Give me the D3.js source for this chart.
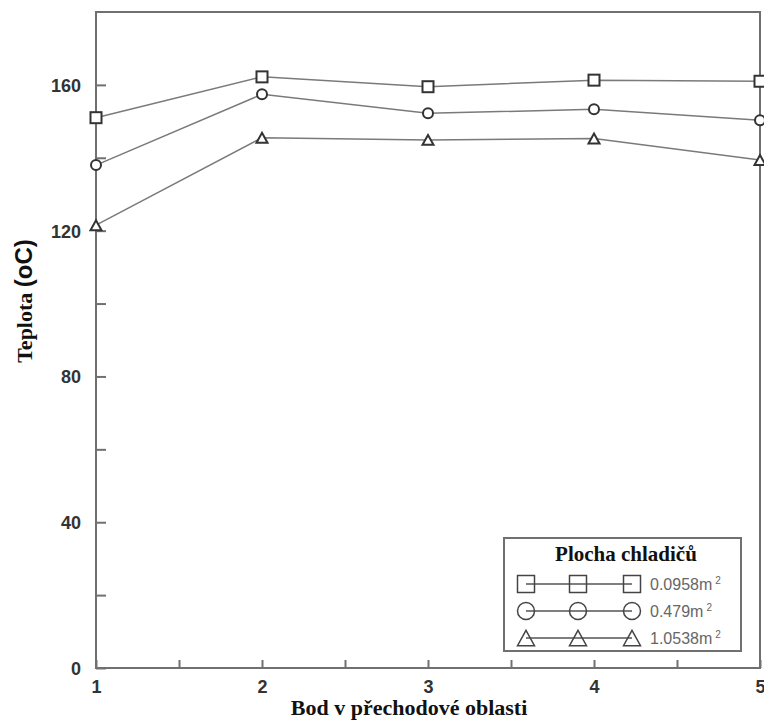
<!DOCTYPE html>
<html>
<head>
<meta charset="utf-8">
<script src="https://cdn.jsdelivr.net/npm/d3@7"></script>
<style>
  body { margin: 0; background: #fff; }
  svg { display: block; }
</style>
</head>
<body>
<svg id="chart" width="764" height="724"></svg>
<script>
// data
const points = [1, 2, 3, 4, 5];
const series_labels = ['0.0958m', '0.479m', '1.0538m'];
const series_symbols = ['square', 'circle', 'triangle'];
const values_0958 = [151, 162.2, 159.5, 161.3, 161.0];
const values_479 = [138, 157.4, 152.2, 153.3, 150.3];
const values_10538 = [121.5, 145.5, 144.9, 145.3, 139.4];
const y_ticks = [0, 40, 80, 120, 160];
const y_minor = [20, 60, 100, 140];
const x_minor = [1.5, 2.5, 3.5, 4.5];

const series = [values_0958, values_479, values_10538].map((v, i) => ({
  label: series_labels[i],
  symbol: series_symbols[i],
  values: v
}));

const svg = d3.select('#chart');
const plot_left = 96, plot_right = 760, plot_top = 12, plot_bottom = 668;
const axis_color = '#707070';
const sans = '"Liberation Sans", Arial, sans-serif';
const serif = '"Liberation Serif", "Times New Roman", serif';

const x = d3.scaleLinear().domain([1, 5]).range([plot_left, plot_right]);
const y = d3.scaleLinear().domain([0, 180]).range([plot_bottom, plot_top]);

// frame
svg.append('rect')
  .attr('x', plot_left).attr('y', plot_top)
  .attr('width', plot_right - plot_left).attr('height', plot_bottom - plot_top)
  .attr('fill', 'none')
  .attr('stroke', axis_color)
  .attr('stroke-width', 2);

// axes (ticks inside)
const xAxis = svg.append('g')
  .attr('transform', `translate(0,${plot_bottom})`)
  .call(d3.axisBottom(x).tickValues(points).tickSize(-8).tickPadding(14).tickFormat(d3.format('d')));
const xMinor = svg.append('g')
  .attr('transform', `translate(0,${plot_bottom})`)
  .call(d3.axisBottom(x).tickValues(x_minor).tickSize(-8).tickFormat(''));
const yAxis = svg.append('g')
  .attr('transform', `translate(${plot_left},0)`)
  .call(d3.axisLeft(y).tickValues(y_ticks).tickSize(-10).tickPadding(15));
const yMinor = svg.append('g')
  .attr('transform', `translate(${plot_left},0)`)
  .call(d3.axisLeft(y).tickValues(y_minor).tickSize(-10).tickFormat(''));

[xAxis, xMinor, yAxis, yMinor].forEach(g => {
  g.select('.domain').remove();
  g.selectAll('line').attr('stroke', axis_color).attr('stroke-width', 2);
  g.selectAll('text')
    .attr('fill', '#333')
    .style('font-family', sans)
    .style('font-weight', 'bold')
    .style('font-size', '18px');
});
yAxis.selectAll('text').attr('dy', '0.36em');
xAxis.selectAll('text').attr('dy', '0.6em');

// axis titles
svg.append('text')
  .attr('x', 409)
  .attr('y', 715)
  .attr('text-anchor', 'middle')
  .style('font-family', serif)
  .style('font-weight', 'bold')
  .style('font-size', '22px')
  .attr('fill', '#111')
  .text('Bod v přechodové oblasti');

const ytitle = svg.append('text')
  .attr('transform', 'translate(32,301) rotate(-90)')
  .attr('text-anchor', 'middle')
  .style('font-weight', 'bold')
  .attr('fill', '#111');
ytitle.append('tspan')
  .style('font-family', serif)
  .style('font-size', '22px')
  .text('Teplota ');
ytitle.append('tspan')
  .style('font-family', sans)
  .style('font-size', '24px')
  .text('(oC)');

// symbols
function drawSymbol(g, type, cx, cy, s) {
  if (type === 'square') {
    g.append('rect')
      .attr('x', cx - s / 2).attr('y', cy - s / 2)
      .attr('width', s).attr('height', s);
  } else if (type === 'circle') {
    g.append('circle').attr('cx', cx).attr('cy', cy).attr('r', s / 2);
  } else {
    const h = s * 0.9;
    g.append('path')
      .attr('d', `M ${cx},${cy - h / 2} L ${cx + s / 2},${cy + h / 2} L ${cx - s / 2},${cy + h / 2} Z`);
  }
}

const line = d3.line()
  .x((d, i) => x(points[i]))
  .y(d => y(d));

series.forEach(s => {
  const g = svg.append('g').classed('series', true);
  g.append('path')
    .attr('d', line(s.values))
    .attr('fill', 'none')
    .attr('stroke', '#7a7a7a')
    .attr('stroke-width', 1.5);
  const m = g.append('g')
    .attr('fill', '#fff')
    .attr('stroke', '#333')
    .attr('stroke-width', 2);
  s.values.forEach((v, i) => drawSymbol(m, s.symbol, x(points[i]), y(v), s.symbol === 'circle' ? 10 : 11));
});

// legend
const lg = svg.append('g').classed('legend', true);
lg.append('rect')
  .attr('x', 504).attr('y', 538)
  .attr('width', 237).attr('height', 113)
  .attr('fill', '#fff')
  .attr('stroke', axis_color)
  .attr('stroke-width', 2);
lg.append('text')
  .attr('x', 626).attr('y', 561)
  .attr('text-anchor', 'middle')
  .style('font-family', serif)
  .style('font-weight', 'bold')
  .style('font-size', '21px')
  .attr('fill', '#111')
  .text('Plocha chladičů');

const legend_x = [526, 578, 632];
series.forEach((s, i) => {
  const cy = 584 + i * 27;
  const row = lg.append('g');
  row.append('line')
    .attr('x1', legend_x[0]).attr('x2', legend_x[2])
    .attr('y1', cy).attr('y2', cy)
    .attr('stroke', '#555')
    .attr('stroke-width', 1.5);
  const m = row.append('g')
    .attr('fill', 'none')
    .attr('stroke', '#444')
    .attr('stroke-width', 1.5);
  legend_x.forEach(lx => drawSymbol(m, s.symbol, lx, cy, 17));
  const t = row.append('text')
    .attr('x', 650).attr('y', cy + 6)
    .style('font-family', sans)
    .style('font-size', '16px')
    .attr('fill', '#666')
    .text(s.label);
  t.append('tspan')
    .attr('dx', 3).attr('dy', -6)
    .style('font-size', '10px')
    .text('2');
});
</script>
</body>
</html>
